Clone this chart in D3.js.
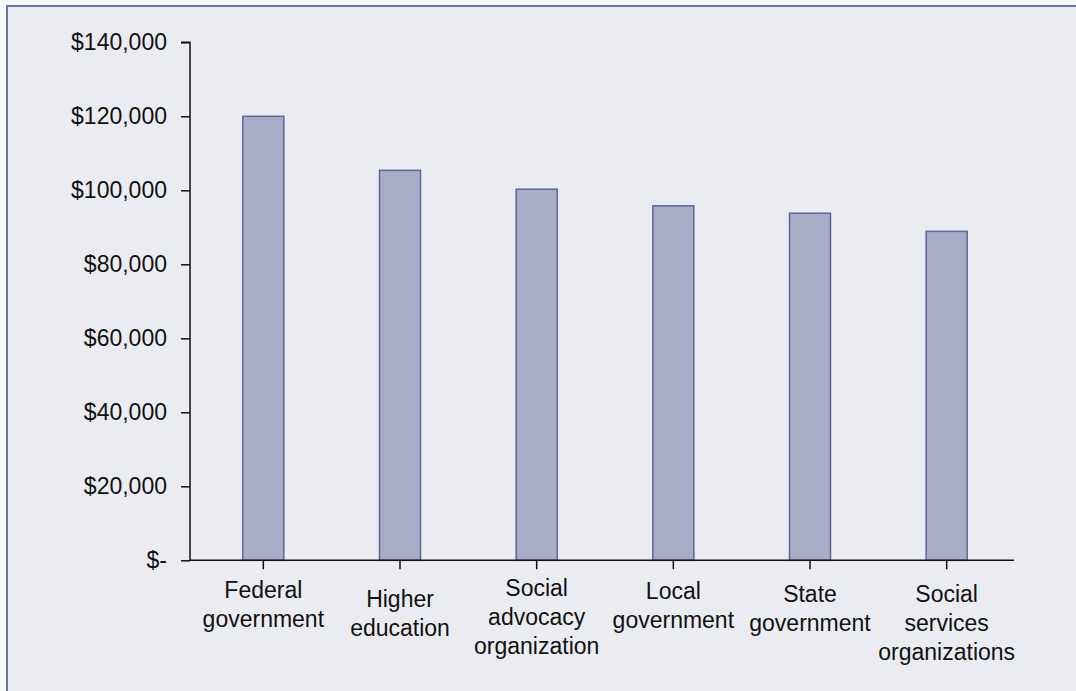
<!DOCTYPE html>
<html>
<head>
<meta charset="utf-8">
<script src="https://cdn.jsdelivr.net/npm/d3@7/dist/d3.min.js"></script>
<style>
  html, body { margin: 0; padding: 0; background: #f8f8f9; }
  svg { display: block; }
  text { font-family: "Liberation Sans", Arial, Helvetica, sans-serif; fill: #111; }
</style>
</head>
<body>
<svg id="chart" width="1076" height="691"></svg>
<script>
// Median salary by employment sector
const categories = [
  "Federal government",
  "Higher education",
  "Social advocacy organization",
  "Local government",
  "State government",
  "Social services organizations"
];
const categoryLines = [
  ["Federal", "government"],
  ["Higher", "education"],
  ["Social", "advocacy", "organization"],
  ["Local", "government"],
  ["State", "government"],
  ["Social", "services", "organizations"]
];
const salaries = [120000, 105400, 100300, 95800, 93800, 88900];
const yTicks = [0, 20000, 40000, 60000, 80000, 100000, 120000, 140000];

const svg = d3.select("#chart");
const W = 1076, H = 691;

// panel
svg.append("rect")
  .attr("x", 7).attr("y", 6)
  .attr("width", W + 20).attr("height", H + 20)
  .attr("fill", "#ebecf2")
  .attr("stroke", "#6c72a3")
  .attr("stroke-width", 2);

const plot = { left: 190, right: 1014, top: 42.3, bottom: 560.3 };

const x = d3.scaleBand()
  .domain(categories)
  .range([195, 1015])
  .paddingInner(0)
  .paddingOuter(0);

const y = d3.scaleLinear()
  .domain([0, 140000])
  .range([plot.bottom, plot.top]);

const barW = 41;

// bars
svg.append("g").selectAll("rect")
  .data(categories)
  .join("rect")
  .attr("x", (d) => x(d) + x.bandwidth() / 2 - barW / 2)
  .attr("y", (d, i) => y(salaries[i]))
  .attr("width", barW)
  .attr("height", (d, i) => y(0) - y(salaries[i]))
  .attr("fill", "#a8adc7")
  .attr("stroke", "#5d6499")
  .attr("stroke-width", 1.5);

// y axis
const yAxis = d3.axisLeft(y)
  .tickValues(yTicks)
  .tickSize(9)
  .tickPadding(14)
  .tickFormat((d) => d === 0 ? "$-" : "$" + d3.format(",")(d));

const gy = svg.append("g")
  .attr("transform", `translate(${plot.left},0)`)
  .call(yAxis);
gy.select(".domain").attr("stroke", "#111").attr("stroke-width", 1.5)
  .attr("d", `M-9,${plot.top}H0V${plot.bottom}`);
gy.selectAll(".tick line").attr("stroke", "#111").attr("stroke-width", 1.5);
gy.selectAll(".tick text")
  .style("font-size", "23px")
  .attr("fill", "#111");

// x axis
const xAxis = d3.axisBottom(x).tickSize(9).tickFormat("");
const gx = svg.append("g")
  .attr("transform", `translate(0,${plot.bottom})`)
  .call(xAxis);
gx.select(".domain").attr("stroke", "#111").attr("stroke-width", 1.5)
  .attr("d", `M${plot.left},0H${plot.right}`);
gx.selectAll(".tick line").attr("stroke", "#111").attr("stroke-width", 1.5);

// multi-line category labels
const labelNudge = [-2, 7, -4, -1, 2, 2];
const lineH = 29;
const labels = svg.append("g").selectAll("text")
  .data(categories)
  .join("text")
  .attr("text-anchor", "middle")
  .style("font-size", "23px")
  .attr("transform", (d, i) => `translate(${x(d) + x.bandwidth() / 2},${600 + labelNudge[i]})`);

labels.each(function (d, i) {
  d3.select(this).selectAll("tspan")
    .data(categoryLines[i])
    .join("tspan")
    .attr("x", 0)
    .attr("y", (t, j) => j * lineH)
    .text((t) => t);
});
</script>
</body>
</html>
